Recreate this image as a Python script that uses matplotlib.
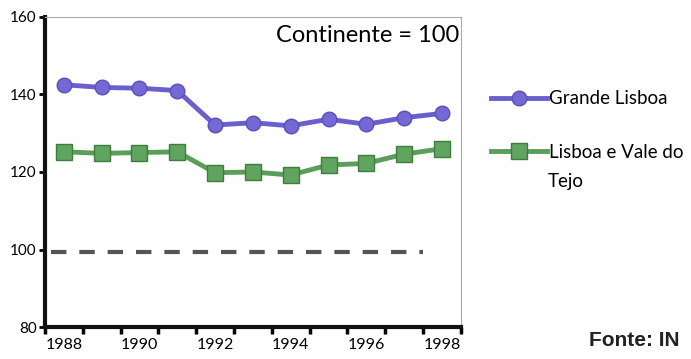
import matplotlib.pyplot as plt
import numpy as np

plt.rcParams['font.family'] = ['Lato', 'DejaVu Sans']

years = [1988, 1989, 1990, 1991, 1992, 1993, 1994, 1995, 1996, 1997, 1998]
grande_lisboa = [142.5, 141.8, 141.6, 141.0, 132.1, 132.7, 131.9, 133.6, 132.3, 134.0, 135.1]
lisboa_vale_tejo = [125.2, 124.8, 125.0, 125.2, 119.8, 120.0, 119.2, 121.8, 122.2, 124.6, 126.0]
continente = 99.4
year_labels = ['1988', '1990', '1992', '1994', '1996', '1998']
y_ticks = [80, 100, 120, 140, 160]

fig = plt.figure(figsize=(6.91, 3.59), dpi=100)
ax = fig.add_axes([0.065, 0.089, 0.602, 0.864])

x = np.arange(len(years))

# reference line (Continente = 100)
ax.plot([-0.34, len(years) - 1.5], [continente, continente], color='#555555',
        lw=3, dashes=(3.7, 3.1), solid_capstyle='butt', dash_capstyle='butt')

purple, green = '#6a5fcc', '#5a9e5a'
l1, = ax.plot(x, grande_lisboa, color=purple, lw=3.5, marker='o', ms=10.5,
              mfc='#7468d4', mec='#5b50b8', mew=1, label='Grande Lisboa')
l2, = ax.plot(x, lisboa_vale_tejo, color=green, lw=3.5, marker='s', ms=11,
              mfc='#5fa45f', mec='#3f7d3f', mew=1, label='Lisboa e Vale do')

ax.set_xlim(-0.5, len(years) - 0.5)
ax.set_ylim(80, 160)
ax.set_xticks(np.arange(-0.5, len(years), 1.0))
ax.set_xticklabels([])
ax.set_xticks(x[::2], minor=True)
ax.set_xticklabels(year_labels, minor=True)
ax.tick_params(axis='x', which='minor', length=0, pad=8, labelsize=11.5)
ax.tick_params(axis='x', which='major', length=5, width=2.5, direction='out', color='black')
ax.set_yticks(y_ticks)
ax.tick_params(axis='y', length=4, width=2, labelsize=11, pad=2)

for s in ['top', 'right']:
    ax.spines[s].set_color('#aaaaaa')
    ax.spines[s].set_linewidth(0.8)
for s in ['left', 'bottom']:
    ax.spines[s].set_color('#111111')
    ax.spines[s].set_linewidth(3)

ax.text(0.995, 0.975, 'Continente = 100', transform=ax.transAxes, ha='right', va='top',
        fontsize=17)

fig.legend(handles=[l1, l2], loc='upper left', bbox_to_anchor=(0.700, 0.77),
           frameon=False, fontsize=13.5, handlelength=3.0, handletextpad=0.1,
           labelspacing=1.95, borderaxespad=0)
# second line of the legend label
fig.text(0.793, 0.495, 'Tejo', fontsize=13.5, ha='left', va='center')

fig.text(0.852, 0.025, 'Fonte: IN', family='Liberation Sans', fontweight='bold',
         fontsize=15, ha='left', va='bottom', color='#222222')

fig.savefig('out.png', dpi=100)
